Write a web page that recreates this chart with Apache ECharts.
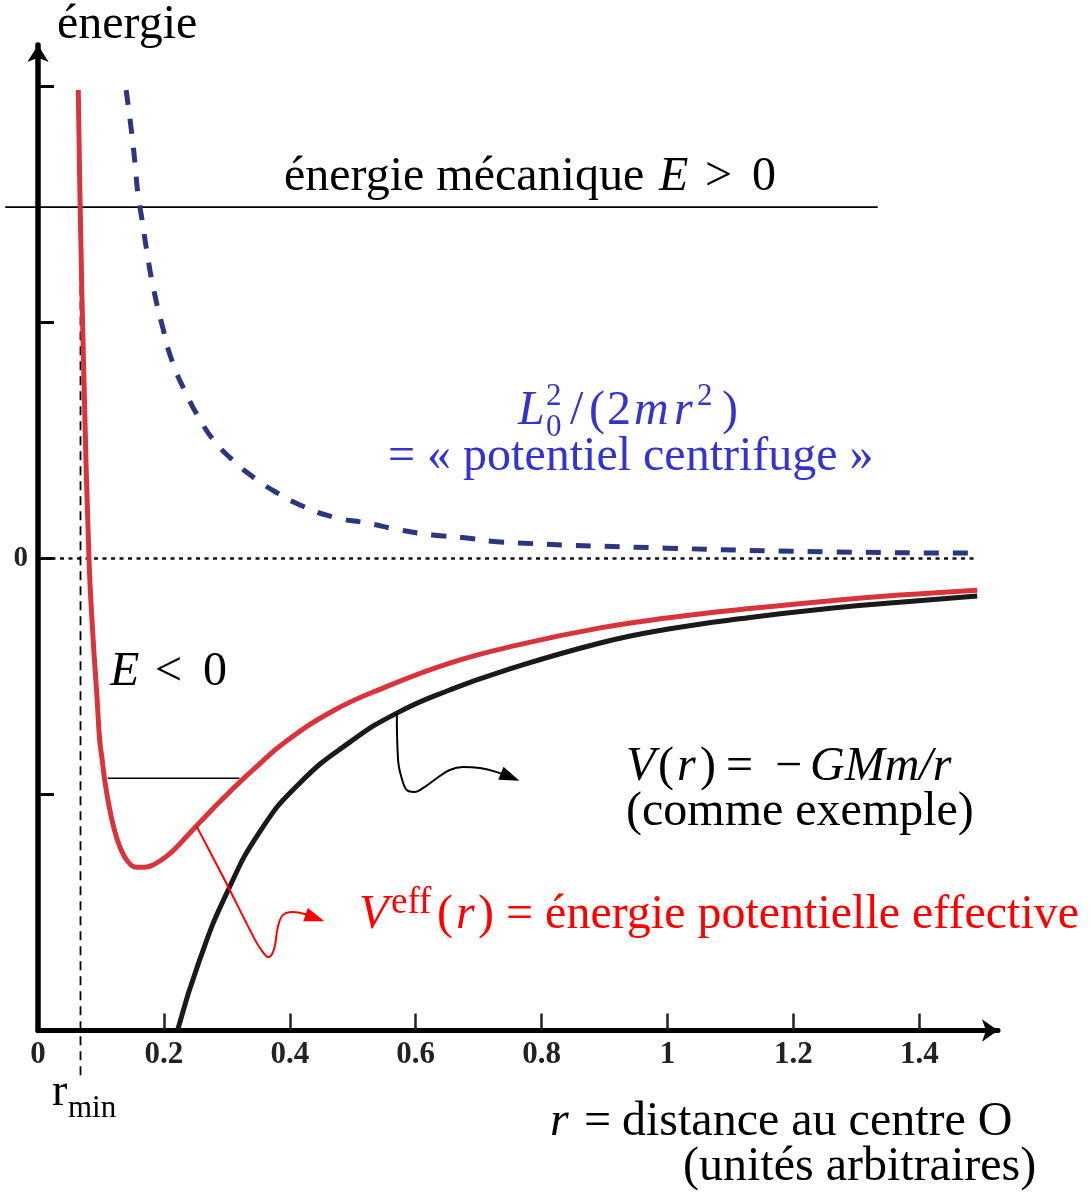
<!DOCTYPE html>
<html>
<head>
<meta charset="utf-8">
<script src="https://cdn.jsdelivr.net/npm/echarts@6/dist/echarts.min.js"></script>
<style>
  html, body { margin: 0; padding: 0; background: #fff; }
  #chart { width: 1091px; height: 1192px; }
</style>
</head>
<body>
<div id="chart"></div>
<script>
// distance r (unités arbitraires) et énergies
const rEff = [0.064, 0.067, 0.073, 0.081, 0.087, 0.094, 0.098, 0.102, 0.106, 0.112, 0.12, 0.13, 0.143, 0.157, 0.17, 0.186, 0.207, 0.228, 0.249, 0.271, 0.297, 0.318, 0.342, 0.389, 0.469, 0.548, 0.654, 0.761, 0.893, 0.999, 1.131, 1.263, 1.369, 1.492]
const vEff = [1.985, 1.489, 0.756, 0, -0.316, -0.599, -0.769, -0.854, -0.939, -1.036, -1.136, -1.221, -1.285, -1.308, -1.308, -1.294, -1.256, -1.201, -1.141, -1.079, -1.009, -0.954, -0.895, -0.785, -0.645, -0.549, -0.443, -0.367, -0.294, -0.252, -0.212, -0.178, -0.155, -0.134]

const rPot = [0.222, 0.257, 0.3, 0.353, 0.416, 0.496, 0.57, 0.654, 0.734, 0.893, 0.999, 1.131, 1.263, 1.369, 1.492]
const vPot = [-1.996, -1.699, -1.417, -1.155, -0.951, -0.777, -0.655, -0.557, -0.481, -0.358, -0.3, -0.25, -0.21, -0.185, -0.159]

const rCentri = [0.14, 0.149, 0.154, 0.159, 0.165, 0.173, 0.183, 0.199, 0.214, 0.237, 0.257, 0.278, 0.31, 0.348, 0.38, 0.416, 0.469, 0.523, 0.575, 0.627, 0.681, 0.734, 0.999, 1.263, 1.492]
const vCentri = [1.985, 1.8, 1.676, 1.54, 1.44, 1.3, 1.15, 0.97, 0.83, 0.69, 0.59, 0.505, 0.415, 0.333, 0.278, 0.227, 0.176, 0.15, 0.121, 0.1, 0.087, 0.07, 0.044, 0.028, 0.023]

// niveaux d'énergie
const ePositive = 1.489
const ePosRange = [-0.052, 1.334]
const eNegative = -0.931
const eNegRange = [0.111, 0.32]
const rMin = 0.0675
const rMinRange = [-2.19, 1.489]
const zeroRange = [0.008, 1.492]

// flèches ondulées (annotations)
const rArrowV = [0.57, 0.572, 0.58, 0.588, 0.599, 0.612, 0.634, 0.654, 0.675, 0.702, 0.729, 0.75]
const vArrowV = [-0.655, -0.854, -0.951, -0.985, -0.989, -0.972, -0.93, -0.896, -0.883, -0.888, -0.905, -0.926]
const rArrowEff = [0.252, 0.299, 0.345, 0.357, 0.366, 0.375, 0.381, 0.389, 0.405, 0.424, 0.44]
const vArrowEff = [-1.135, -1.375, -1.617, -1.667, -1.689, -1.655, -1.561, -1.511, -1.498, -1.506, -1.523]

// graduations
const xTicks = [0.2, 0.4, 0.6, 0.8, 1, 1.2, 1.4]
const xLabels = [0, 0.2, 0.4, 0.6, 0.8, 1, 1.2, 1.4]
const yTicks = [-1, 0, 1, 2]
const yLabels = [0]

const SERIF = '"Liberation Serif", "Times New Roman", serif'
const zip = (a, b) => a.map((x, i) => [x, b[i]])

// petit texte placé sur sa ligne de base
const txt = (str, x, base, size, color, italic) => ({
  type: 'text',
  x: x,
  y: base - 0.3 * size,
  z: 100,
  style: {
    text: str,
    font: (italic ? 'italic ' : '') + size + 'px ' + SERIF,
    fill: color || '#000',
    textAlign: 'left',
    textVerticalAlign: 'middle',
    verticalAlign: 'middle'
  }
})

const withArrow = (pts, rot) => pts.map((p, i) => i === pts.length - 1
  ? { value: p, symbol: 'triangle', symbolSize: [14, 20], symbolRotate: rot }
  : { value: p, symbol: 'none' })

const BLUE = '#3434cc'
const RED = '#ff0000'

const chart = echarts.init(document.getElementById('chart'), null, { renderer: 'canvas' })

chart.setOption({
  animation: false,
  backgroundColor: '#fff',
  grid: [
    { left: 38, right: 93, top: 45, bottom: 161.5 },
    // même échelle, élargie à gauche pour le trait E > 0
    { left: 5, right: 93, top: 45, bottom: 161.5 }
  ],
  xAxis: [{
    type: 'value',
    gridIndex: 0,
    min: 0,
    max: 1.525,
    axisLine: {
      onZero: false,
      symbol: ['none', 'arrow'],
      symbolSize: [17, 16],
      lineStyle: { color: '#000', width: 5 }
    },
    axisTick: {
      inside: true,
      length: 17,
      customValues: xTicks,
      lineStyle: { color: '#222', width: 2.5 }
    },
    axisLabel: {
      customValues: xLabels,
      margin: 9,
      color: '#222',
      fontFamily: SERIF,
      fontWeight: 'bold',
      fontSize: 31,
      formatter: v => String(v)
    },
    splitLine: { show: false }
  }, {
    type: 'value',
    gridIndex: 1,
    min: -0.0524,
    max: 1.525,
    show: false
  }],
  yAxis: [{
    type: 'value',
    gridIndex: 0,
    min: -2,
    max: 2.176,
    axisLine: {
      onZero: false,
      symbol: ['none', 'arrow'],
      symbolSize: [16, 17],
      lineStyle: { color: '#000', width: 5.5 }
    },
    axisTick: {
      inside: true,
      length: 16,
      customValues: yTicks,
      lineStyle: { color: '#000', width: 3 }
    },
    axisLabel: {
      customValues: yLabels,
      margin: 10,
      color: '#222',
      fontFamily: SERIF,
      fontWeight: 'bold',
      fontSize: 29
    },
    splitLine: { show: false }
  }, {
    type: 'value',
    gridIndex: 1,
    min: -2,
    max: 2.176,
    show: false
  }],
  series: [
    {
      name: 'zero',
      type: 'line',
      data: [[zeroRange[0], 0], [zeroRange[1], 0]],
      symbol: 'none',
      lineStyle: { color: '#111', width: 2.5, type: [4, 4.5] }
    },
    {
      name: 'E > 0',
      type: 'line',
      xAxisIndex: 1,
      yAxisIndex: 1,
      data: [[ePosRange[0], ePositive], [ePosRange[1], ePositive]],
      symbol: 'none',
      lineStyle: { color: '#000', width: 1.8 }
    },
    {
      name: 'rmin',
      type: 'line',
      clip: false,
      data: [[rMin, rMinRange[0]], [rMin, rMinRange[1]]],
      symbol: 'none',
      lineStyle: { color: '#000', width: 1.8, type: [9, 6] }
    },
    {
      name: 'E < 0',
      type: 'line',
      data: [[eNegRange[0], eNegative], [eNegRange[1], eNegative]],
      symbol: 'none',
      lineStyle: { color: '#000', width: 1.6 }
    },
    {
      name: 'centrifuge',
      type: 'line',
      data: zip(rCentri, vCentri),
      smooth: 0.5,
      symbol: 'none',
      lineStyle: { color: '#2b3580', width: 5, type: [15, 14] }
    },
    {
      name: 'V',
      type: 'line',
      data: zip(rPot, vPot),
      smooth: 0.5,
      symbol: 'none',
      lineStyle: { color: '#1a1a1a', width: 5 }
    },
    {
      name: 'Veff',
      type: 'line',
      data: zip(rEff, vEff),
      smooth: 0.45,
      symbol: 'none',
      lineStyle: { color: '#d8343b', width: 5 }
    },
    {
      name: 'fleche V',
      type: 'line',
      data: withArrow(zip(rArrowV, vArrowV), -112),
      smooth: 0.4,
      showSymbol: true,
      showAllSymbol: true,
      itemStyle: { color: '#000' },
      lineStyle: { color: '#000', width: 2 }
    },
    {
      name: 'fleche Veff',
      type: 'line',
      clip: false,
      data: withArrow(zip(rArrowEff, vArrowEff), -109),
      smooth: 0.35,
      showSymbol: true,
      showAllSymbol: true,
      itemStyle: { color: RED },
      lineStyle: { color: RED, width: 2 }
    }
  ],
  graphic: [
    txt('énergie', 57, 40, 48),
    txt('énergie mécanique', 284, 192, 48),
    txt('E', 659, 192, 48, '#000', true),
    txt('>', 705, 192, 48),
    txt('0', 752, 192, 48),

    txt('L', 518, 426, 48, BLUE, true),
    txt('2', 546, 406, 31, BLUE),
    txt('0', 546, 437, 31, BLUE),
    txt('/', 570, 426, 48, BLUE),
    txt('(', 589, 426, 48, BLUE),
    txt('2', 607, 426, 48, BLUE),
    txt('m', 634, 426, 48, BLUE, true),
    txt('r', 674, 426, 48, BLUE, true),
    txt('2', 697, 406, 31, BLUE),
    txt(')', 722, 426, 48, BLUE),
    txt('= « potentiel centrifuge »', 388, 472, 48, BLUE),

    txt('E', 110, 687, 48, '#000', true),
    txt('<', 155, 687, 48),
    txt('0', 203, 687, 48),

    txt('V', 626, 782, 48, '#000', true),
    txt('(', 658, 782, 48),
    txt('r', 677, 782, 48, '#000', true),
    txt(')', 700, 782, 48),
    txt('=', 726, 782, 48),
    txt('−', 775, 782, 48),
    txt('GMm/r', 810, 782, 48, '#000', true),
    txt('(comme exemple)', 626, 827, 48),

    txt('V', 359, 930, 48, RED, true),
    txt('eff', 391, 914, 37, RED),
    txt('(', 437, 930, 48, RED),
    txt('r', 456, 930, 48, RED, true),
    txt(')', 478, 930, 48, RED),
    txt('= énergie potentielle effective', 506, 930, 48, RED),

    txt('r', 52, 1107, 46),
    txt('min', 68, 1118, 31),

    txt('r', 550, 1137, 48, '#000', true),
    txt('=', 584, 1137, 48),
    txt('distance au centre O', 622, 1137, 48),
    txt('(unités arbitraires)', 683, 1182, 48)
  ]
})
</script>
</body>
</html>
